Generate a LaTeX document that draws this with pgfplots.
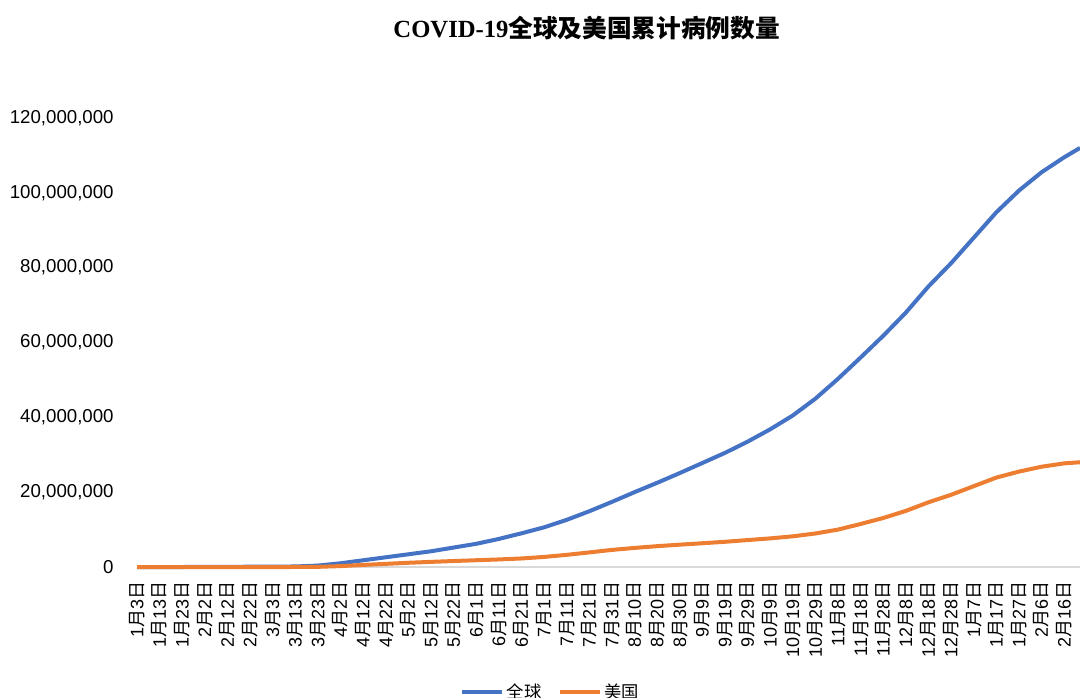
\documentclass[border=0pt]{standalone}
\usepackage{fontspec}
\setmainfont{Liberation Sans}
\newfontfamily\cjk{Noto Sans CJK SC}
\newfontfamily\titleserif{Liberation Serif}
\usepackage{pgfplots}
\usepackage{pgfplotstable}
\pgfplotsset{compat=1.18}
\definecolor{cblue}{HTML}{4472C4}
\definecolor{corange}{HTML}{ED7D31}
\newcommand\md[2]{#1{\cjk 月}#2{\cjk 日}}

\pgfplotstableread{
day global us
0 0 0
10 0 0
20 650 0
30 17000 10
40 45000 15
50 78000 30
60 92000 100
70 145000 2200
80 380000 44000
90 1000000 245000
100 1800000 560000
110 2600000 840000
120 3400000 1130000
130 4200000 1370000
140 5200000 1600000
150 6200000 1810000
160 7500000 2020000
170 9000000 2280000
180 10600000 2690000
190 12600000 3250000
200 14900000 3900000
210 17400000 4570000
220 20000000 5100000
230 22500000 5570000
240 25100000 5970000
250 27800000 6350000
260 30500000 6740000
270 33500000 7200000
280 36800000 7650000
290 40500000 8200000
300 45000000 8960000
310 50300000 10000000
320 56000000 11500000
330 61800000 13100000
340 68000000 15000000
350 75000000 17300000
360 81200000 19300000
370 88000000 21600000
380 94800000 23900000
390 100600000 25500000
400 105500000 26800000
410 109500000 27700000
417 112000000 28000000
}\datatable

\begin{document}
\begin{tikzpicture}[x=1pt,y=1pt]
\useasboundingbox (0,0) rectangle (810,522.75);
\clip (0,0) rectangle (810,522.75);
\node[font=\fontsize{18.5}{20}\selectfont\bfseries] at (440,501.75) {{\titleserif COVID-19}{\cjk\bfseries 全球及美国累计病例数量}};
\begin{axis}[
  at={(102.75pt,97.5pt)}, anchor=south west,
  scale only axis, width=707.25pt, height=336.75pt,
  xmin=0, xmax=417, ymin=0, ymax=120000000,
  clip=false,
  axis line style={draw=none},
  major tick length=0pt,
  xtick={0,10,...,410},
  xticklabels={\md{1}{3},\md{1}{13},\md{1}{23},\md{2}{2},\md{2}{12},\md{2}{22},\md{3}{3},\md{3}{13},\md{3}{23},\md{4}{2},\md{4}{12},\md{4}{22},\md{5}{2},\md{5}{12},\md{5}{22},\md{6}{1},\md{6}{11},\md{6}{21},\md{7}{1},\md{7}{11},\md{7}{21},\md{7}{31},\md{8}{10},\md{8}{20},\md{8}{30},\md{9}{9},\md{9}{19},\md{9}{29},\md{10}{9},\md{10}{19},\md{10}{29},\md{11}{8},\md{11}{18},\md{11}{28},\md{12}{8},\md{12}{18},\md{12}{28},\md{1}{7},\md{1}{17},\md{1}{27},\md{2}{6},\md{2}{16}},
  xticklabel style={rotate=90, anchor=east, font=\fontsize{13.5}{14}\selectfont, inner sep=1pt},
  xticklabel shift=10pt,
  ytick={0,20000000,...,120000000},
  scaled y ticks=false,
  yticklabel style={font=\fontsize{14}{15}\selectfont, anchor=east, /pgf/number format/.cd, fixed, 1000 sep={,}, assume math mode=true},
  yticklabel shift=14pt,
  extra y ticks={0},
  extra y tick labels={},
  extra y tick style={grid=major, major grid style={color=black!15, line width=1.1pt}},
  legend style={at={(0.439,-0.278)}, anchor=center, draw=none, fill=none, legend columns=2,
    font=\fontsize{13}{14}\selectfont\cjk, /tikz/every even column/.append style={column sep=10pt}},
  legend image code/.code={\draw[#1, line width=3pt] (0pt,0pt) -- (30pt,0pt);},
]
\addplot[color=cblue, line width=3pt] table[x=day, y=global] {\datatable};
\addlegendentry{全球}
\addplot[color=corange, line width=3pt] table[x=day, y=us] {\datatable};
\addlegendentry{美国}
\end{axis}
\end{tikzpicture}
\end{document}
